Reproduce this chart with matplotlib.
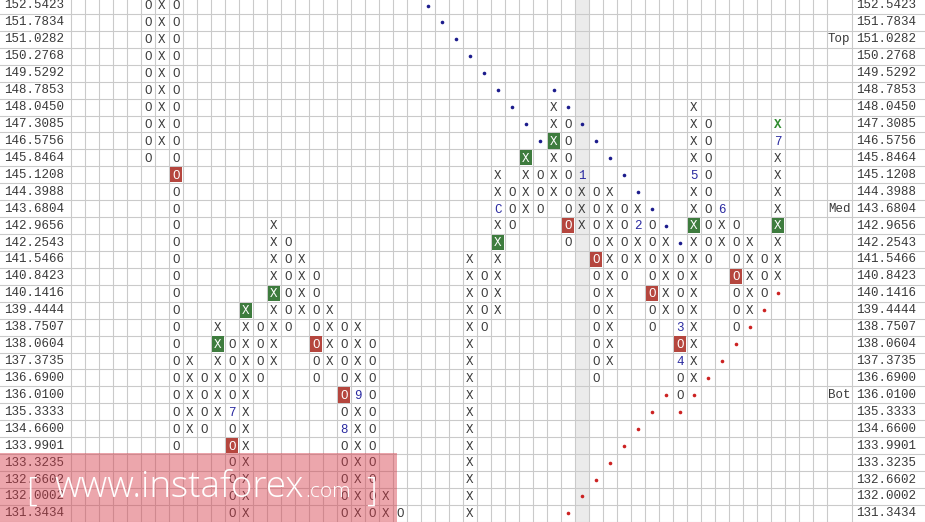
import matplotlib
matplotlib.use("Agg")
import matplotlib.pyplot as plt
from matplotlib.patches import Rectangle

prices = ["152.5423", "151.7834", "151.0282", "150.2768", "149.5292", "148.7853",
          "148.0450", "147.3085", "146.5756", "145.8464", "145.1208", "144.3988",
          "143.6804", "142.9656", "142.2543", "141.5466", "140.8423", "140.1416",
          "139.4444", "138.7507", "138.0604", "137.3735", "136.6900", "136.0100",
          "135.3333", "134.6600", "133.9901", "133.3235", "132.6602", "132.0002",
          "131.3434"]

# point & figure columns: (column, kind, top row, bottom row); row 0 = top price
columns = [(5, "O", 0, 9), (6, "X", 0, 8), (7, "O", 0, 26), (8, "X", 21, 25),
           (9, "O", 22, 25), (10, "X", 19, 24), (11, "O", 20, 30), (12, "X", 18, 30),
           (13, "O", 19, 22), (14, "X", 13, 21), (15, "O", 14, 19), (16, "X", 15, 18),
           (17, "O", 16, 22), (18, "X", 18, 21), (19, "O", 19, 30), (20, "X", 19, 30),
           (21, "O", 20, 30), (22, "X", 29, 30), (23, "O", 30, 30), (28, "X", 15, 30),
           (29, "O", 16, 19), (30, "X", 10, 18), (31, "O", 11, 13), (32, "X", 9, 12),
           (33, "O", 10, 12), (34, "X", 6, 11), (35, "O", 7, 14), (36, "X", 10, 13),
           (37, "O", 11, 22), (38, "X", 11, 21), (39, "O", 12, 16), (40, "X", 12, 15),
           (41, "O", 13, 19), (42, "X", 14, 18), (43, "O", 15, 23), (44, "X", 6, 22),
           (45, "O", 7, 15), (46, "X", 12, 14), (47, "O", 13, 19), (48, "X", 14, 18),
           (49, "O", 15, 17), (50, "X", 7, 16)]

# month markers replacing a box
month_marks = {(36, 10): "1", (30, 12): "C", (40, 13): "2", (43, 19): "3",
               (43, 21): "4", (44, 10): "5", (46, 12): "6", (50, 8): "7",
               (11, 24): "7", (19, 25): "8", (20, 23): "9"}

green_boxes = [(10, 20), (12, 18), (14, 17), (30, 14), (32, 9), (34, 8), (44, 13), (50, 13)]
red_boxes = [(7, 10), (11, 26), (17, 20), (19, 23), (35, 13), (37, 15), (41, 17), (43, 20), (47, 16)]
green_text = [(50, 7)]

blue_dot_cols = [25, 26, 27, 28, 29, 30, 31, 32, 33, 34, 35, 36, 37, 38, 39, 40, 41, 42, 43]
blue_dot_rows = [0, 1, 2, 3, 4, 5, 6, 7, 8, 5, 6, 7, 8, 9, 10, 11, 12, 13, 14]
red_dot_cols = [35, 36, 37, 38, 39, 40, 41, 42, 43, 44, 45, 46, 47, 48, 49, 50]
red_dot_rows = [30, 29, 28, 27, 26, 25, 24, 23, 24, 23, 22, 21, 20, 19, 18, 17]

side_labels = {2: "Top", 12: "Med", 23: "Bot"}
shaded_col = 36
n_grid = 55

W, H = 925, 522
cw, rh = 14, 16.93   # cell size in px
x0, y0 = 78, 5.5     # px centre of column 0 / row 0

def px(x):
    return (x - x0) / cw

fig = plt.figure(figsize=(W / 100, H / 100), dpi=100)
fig.patch.set_facecolor("white")
ax = fig.add_axes([0, 0, 1, 1])
ax.set_xlim(px(0), px(W))
ax.set_ylim((H - y0) / rh, -y0 / rh)
ax.axis("off")

grid_c = "#cacaca"
ax.axvspan(shaded_col - 0.5, shaded_col + 0.5, color="#ebebeb", lw=0, zorder=0)
for k in range(n_grid):
    ax.axvline(k - 0.5, color=grid_c, lw=0.8, zorder=1)
ax.axvline(px(852), color=grid_c, lw=0.8, zorder=1)
for r in range(-1, len(prices)):
    ax.axhline(r + 0.5, color=grid_c, lw=0.8, zorder=1)

font = dict(family="Liberation Mono", fontsize=9)
txt_c = "#3a3a3a"

for r, p in enumerate(prices):
    ax.text(px(4), r, p, ha="left", va="center", color=txt_c, zorder=3, **font)
    ax.text(px(856), r, p, ha="left", va="center", color=txt_c, zorder=3, **font)
for r, s in side_labels.items():
    ax.text(px(828), r, s, ha="left", va="center", color=txt_c, zorder=3, **font)

for c, r in green_boxes:
    ax.add_patch(Rectangle((c - 0.46, r - 0.45), 0.92, 0.9, color="#3e7c3e", lw=0, zorder=2))
for c, r in red_boxes:
    ax.add_patch(Rectangle((c - 0.46, r - 0.45), 0.92, 0.9, color="#b5463e", lw=0, zorder=2))

for c, kind, r0, r1 in columns:
    for r in range(r0, r1 + 1):
        s, col, w = kind, txt_c, "normal"
        if (c, r) in month_marks:
            s, col = month_marks[(c, r)], "#2a2aa0"
        elif (c, r) in green_boxes or (c, r) in red_boxes:
            col = "white"
        elif (c, r) in green_text:
            col, w = "#2e8b2e", "bold"
        ax.text(c, r + 0.05, s, ha="center", va="center", color=col,
                fontweight=w, zorder=3, **font)

ax.plot(blue_dot_cols, blue_dot_rows, ls="none", marker="o", ms=2.6,
        color="#1c1c8c", mew=0, zorder=3)
ax.plot(red_dot_cols, red_dot_rows, ls="none", marker="o", ms=2.6,
        color="#cc2222", mew=0, zorder=3)

# watermark
fig.patches.append(Rectangle((0, 0), 397 / W, (H - 453) / H, transform=fig.transFigure,
                             facecolor="#d63a48", alpha=0.45, lw=0, zorder=10))
wm = dict(color="white", family="Open Sans", fontweight="light", zorder=11, va="baseline")
fig.text(26 / W, 1 - 501 / H, "[", fontsize=24, **wm)
fig.text(54 / W, 1 - 497 / H, "www.instaforex", fontsize=26.5, **wm)
fig.text(305 / W, 1 - 497 / H, ".com", fontsize=15, **wm)
fig.text(366 / W, 1 - 501 / H, "]", fontsize=24, **wm)

fig.savefig("out.png", dpi=100)
